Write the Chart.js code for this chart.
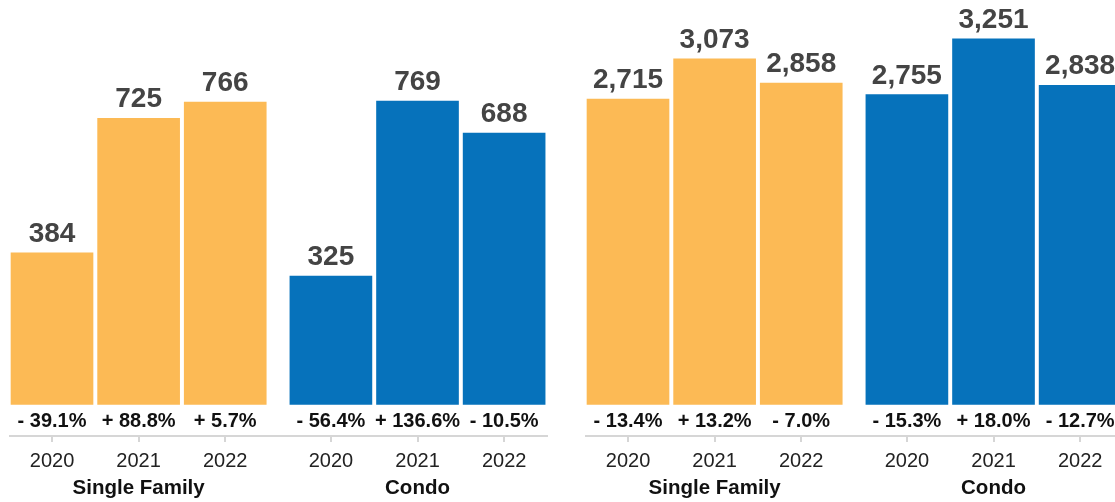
<!DOCTYPE html>
<html>
<head>
<meta charset="utf-8">
<script src="https://cdn.jsdelivr.net/npm/chart.js@4/dist/chart.umd.min.js"></script>
<style>
  html, body { margin: 0; padding: 0; background: #ffffff; overflow: hidden; width: 1115px; height: 502px; }
  canvas { position: absolute; top: 0; }
  #panelLeft { left: 0; }
  #panelRight { left: 576px; }
</style>
</head>
<body>
<canvas id="panelLeft" width="557" height="502"></canvas>
<canvas id="panelRight" width="557" height="502"></canvas>
<script>
// Categories
const years = ['2020', '2021', '2022'];
const groups = ['Single Family', 'Condo'];

// Left panel values and year-over-year change (%)
const leftSingleFamily = [384, 725, 766];
const leftCondo = [325, 769, 688];
const leftSingleFamilyChange = [-39.1, 88.8, 5.7];
const leftCondoChange = [-56.4, 136.6, -10.5];

// Right panel values and year-over-year change (%)
const rightSingleFamily = [2715, 3073, 2858];
const rightCondo = [2755, 3251, 2838];
const rightSingleFamilyChange = [-13.4, 13.2, -7.0];
const rightCondoChange = [-15.3, 18.0, -12.7];

const COLORS = ['#FCBA55', '#0672BB'];
const FONT = '"Liberation Sans", "Helvetica Neue", Arial, sans-serif';
const GROUP_GAP = 0.22;  // extra space between the two groups, in slot units

// slot position of bar i in group g along the linear x axis
function slot(g, i) {
  return g * (years.length + GROUP_GAP) + i;
}

function formatChange(v) {
  return (v < 0 ? '- ' : '+ ') + Math.abs(v).toFixed(1) + '%';
}

const barLabels = {
  id: 'barLabels',
  afterDraw(chart) {
    const { ctx, chartArea } = chart;
    ctx.save();
    ctx.textAlign = 'center';
    chart.data.datasets.forEach((ds, di) => {
      const meta = chart.getDatasetMeta(di);
      meta.data.forEach((bar, i) => {
        const v = ds.data[i].y;
        ctx.font = 'bold 28px ' + FONT;
        ctx.fillStyle = '#444444';
        ctx.textBaseline = 'alphabetic';
        ctx.fillText(v.toLocaleString('en-US'), bar.x, bar.y - 11);

        ctx.font = 'bold 20px ' + FONT;
        ctx.fillStyle = '#111111';
        ctx.textBaseline = 'middle';
        ctx.fillText(formatChange(ds.change[i]), bar.x, chartArea.bottom - 15);
      });
      const mid = meta.data[Math.floor(meta.data.length / 2)];
      ctx.font = 'bold 20.5px ' + FONT;
      ctx.fillStyle = '#111111';
      ctx.textBaseline = 'middle';
      ctx.fillText(ds.label, mid.x, chartArea.bottom + 52);
    });
    ctx.restore();
  }
};

function buildPanel(canvasId, seriesList, changeList, yMin, yMax) {
  const positions = [];
  const tickLabels = [];
  const datasets = seriesList.map((values, g) => {
    values.forEach((_, i) => { positions.push(slot(g, i)); tickLabels.push(years[i]); });
    return {
      label: groups[g],
      data: values.map((v, i) => ({ x: slot(g, i), y: v })),
      change: changeList[g],
      backgroundColor: COLORS[g],
      borderWidth: 0,
      barThickness: 82,
      grouped: false
    };
  });

  return new Chart(document.getElementById(canvasId), {
    type: 'bar',
    data: { datasets },
    options: {
      responsive: false,
      animation: false,
      devicePixelRatio: 1,
      layout: { padding: { left: 10, right: 10, top: 0, bottom: 0 } },
      plugins: { legend: { display: false }, tooltip: { enabled: false } },
      scales: {
        x: {
          type: 'linear',
          offset: false,
          min: -0.485,
          max: slot(groups.length - 1, years.length - 1) + 0.495,
          afterBuildTicks(scale) {
            scale.ticks = positions.map(v => ({ value: v }));
          },
          afterFit(scale) { scale.height = 66; },
          border: { display: true, color: '#d6d6d6', width: 2 },
          grid: { offset: false, drawOnChartArea: false, drawTicks: true, tickLength: 6, color: '#d6d6d6', lineWidth: 2 },
          ticks: {
            autoSkip: false,
            maxRotation: 0,
            padding: 7,
            color: '#222222',
            font: { family: FONT, size: 20 },
            callback: (value, index) => tickLabels[index]
          }
        },
        y: {
          display: false,
          min: yMin,
          max: yMax
        }
      }
    },
    plugins: [barLabels]
  });
}

buildPanel('panelLeft', [leftSingleFamily, leftCondo], [leftSingleFamilyChange, leftCondoChange], -80, 1025);
buildPanel('panelRight', [rightSingleFamily, rightCondo], [rightSingleFamilyChange, rightCondoChange], -280, 3596);
</script>
</body>
</html>
